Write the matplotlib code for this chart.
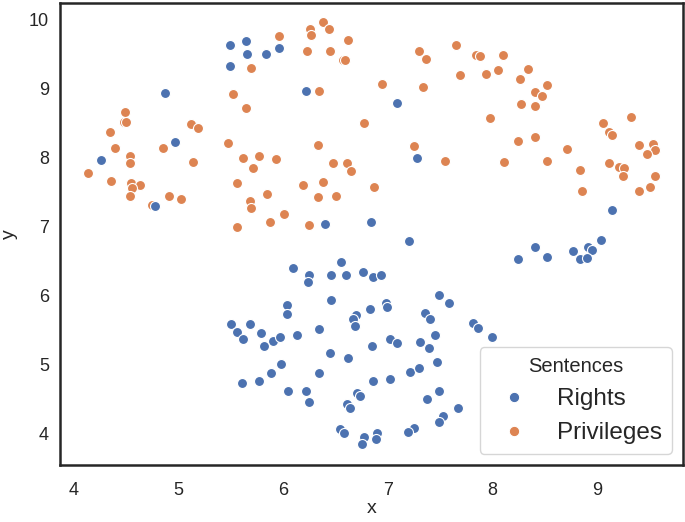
import matplotlib
matplotlib.use("Agg")
import matplotlib.pyplot as plt
from matplotlib.lines import Line2D

rights_x = [5.49, 5.65, 5.66, 5.49, 5.84, 5.96, 4.87, 6.22, 7.09, 4.97, 4.26, 7.28, 4.78, 6.40, 6.84,
            9.14, 7.20, 8.24, 8.41, 8.52, 8.77, 8.91, 8.95, 8.84, 8.90, 9.04, 6.10, 6.25, 6.24, 6.55,
            6.46, 6.60, 6.76, 6.86, 6.94, 6.04, 6.04, 6.46, 6.83, 6.98, 6.99, 6.70, 6.67, 6.69, 5.50,
            5.68, 5.56, 5.62, 5.79, 5.90, 5.97, 5.82, 6.13, 6.34, 7.02, 7.09, 6.85, 6.45, 6.62, 5.98,
            5.89, 6.34, 5.61, 5.77, 6.86, 7.02, 6.05, 6.22, 6.25, 6.71, 6.74, 6.61, 6.64, 6.54, 6.58,
            6.77, 6.75, 6.90, 6.89, 7.49, 7.59, 7.36, 7.40, 7.81, 7.86, 8.00, 7.31, 7.45, 7.39, 7.47,
            7.21, 7.30, 7.49, 7.38, 7.67, 7.53, 7.49, 7.25, 7.19]
rights_y = [9.63, 9.68, 9.50, 9.32, 9.49, 9.58, 8.93, 8.96, 8.78, 8.22, 7.96, 7.99, 7.29, 7.03, 7.06,
            7.23, 6.79, 6.52, 6.70, 6.56, 6.64, 6.70, 6.65, 6.52, 6.54, 6.80, 6.39, 6.29, 6.19, 6.48,
            6.30, 6.30, 6.33, 6.26, 6.30, 5.86, 5.73, 5.93, 5.80, 5.89, 5.83, 5.71, 5.66, 5.56, 5.58,
            5.58, 5.47, 5.37, 5.45, 5.34, 5.40, 5.26, 5.42, 5.51, 5.37, 5.31, 5.27, 5.16, 5.09, 5.00,
            4.87, 4.87, 4.73, 4.76, 4.76, 4.79, 4.62, 4.61, 4.46, 4.59, 4.54, 4.42, 4.37, 4.06, 4.00,
            3.95, 3.85, 4.01, 3.92, 6.00, 5.89, 5.74, 5.66, 5.60, 5.52, 5.39, 5.32, 5.42, 5.23, 5.04,
            4.89, 4.95, 4.62, 4.50, 4.37, 4.25, 4.17, 4.08, 4.02]

priv_x = [5.69, 5.52, 5.65, 4.49, 4.48, 4.50, 4.35, 5.12, 5.19, 4.40, 4.85, 5.47, 4.54, 5.62, 5.77,
          5.14, 5.96, 6.26, 6.27, 6.38, 6.44, 6.62, 6.23, 6.45, 6.57, 6.59, 6.95, 6.34, 6.77, 6.33,
          5.93, 6.48, 6.61, 7.30, 7.37, 7.65, 7.84, 7.88, 8.10, 7.69, 7.94, 8.05, 7.34, 8.34, 8.26,
          8.52, 8.41, 8.47, 8.27, 8.41, 7.98, 8.24, 8.41, 8.71, 9.32, 9.06, 9.11, 9.14, 9.40, 9.53,
          9.55, 9.48, 7.25, 7.55, 8.11, 8.52, 9.11, 8.84, 8.86, 9.21, 9.26, 9.25, 9.55, 9.51, 9.40,
          4.54, 4.14, 4.36, 4.55, 4.63, 4.56, 4.54, 4.75, 4.91, 5.03, 5.71, 5.56, 5.68, 5.69, 5.56,
          6.38, 6.19, 6.87, 5.85, 6.33, 6.51, 6.01, 5.88, 6.25, 6.65]
priv_y = [9.29, 8.91, 8.71, 8.66, 8.51, 8.51, 8.37, 8.48, 8.42, 8.13, 8.13, 8.21, 8.01, 7.99, 8.02,
          7.93, 9.75, 9.85, 9.77, 9.96, 9.86, 9.70, 9.53, 9.53, 9.40, 9.41, 9.06, 8.96, 8.50, 8.18,
          7.97, 7.91, 7.91, 9.53, 9.42, 9.62, 9.48, 9.47, 9.48, 9.19, 9.21, 9.26, 9.01, 9.27, 9.13,
          9.05, 8.95, 8.89, 8.77, 8.74, 8.57, 8.24, 8.29, 8.12, 8.58, 8.49, 8.37, 8.32, 8.17, 8.19,
          8.10, 8.05, 8.16, 7.94, 7.93, 7.95, 7.92, 7.81, 7.51, 7.85, 7.84, 7.73, 7.72, 7.57, 7.51,
          7.91, 7.77, 7.66, 7.63, 7.60, 7.55, 7.43, 7.31, 7.43, 7.40, 7.84, 7.63, 7.36, 7.27, 6.99,
          7.64, 7.59, 7.57, 7.46, 7.42, 7.43, 7.18, 7.06, 7.01, 7.80]

series_names = ["Rights", "Privileges"]
legend_title = "Sentences"
colors = ["#4C72B0", "#DD8452"]

plt.rcParams['font.family'] = ['Liberation Sans', 'DejaVu Sans']

fig = plt.figure(figsize=(6.85, 5.22), dpi=100)
ax = fig.add_axes([0.0876, 0.109, 0.9094, 0.885])

ax.scatter(priv_x, priv_y, s=52, c=colors[1], edgecolors="white", linewidths=0.8, zorder=2)
ax.scatter(rights_x, rights_y, s=52, c=colors[0], edgecolors="white", linewidths=0.8, zorder=3)

ax.set_xlim(3.87, 9.82)
ax.set_ylim(3.54, 10.23)
ax.set_xticks([4, 5, 6, 7, 8, 9])
ax.set_yticks([4, 5, 6, 7, 8, 9, 10])
ax.tick_params(labelsize=13, length=0, colors="#262626")
ax.tick_params(axis="x", pad=12)
ax.tick_params(axis="y", pad=8)
ax.set_xlabel("x", fontsize=14, color="#262626", labelpad=1)
ax.set_ylabel("y", fontsize=14, color="#262626", labelpad=8)
for sp in ax.spines.values():
    sp.set_color("#262626")
    sp.set_linewidth(1.8)

handles = [Line2D([], [], linestyle="none", marker="o", markersize=7.5,
                  markerfacecolor=c, markeredgecolor="white", markeredgewidth=0.8)
           for c in colors]
leg = ax.legend(handles, series_names, title=legend_title, loc="lower right",
                fontsize=17.5, title_fontsize=14.5, frameon=True, fancybox=True,
                borderaxespad=0.45)
leg.get_frame().set_edgecolor("#cccccc")
leg.get_frame().set_linewidth(1.0)
for t in leg.get_texts():
    t.set_color("#262626")
leg.get_title().set_color("#262626")

fig.savefig("out.png", dpi=100)
